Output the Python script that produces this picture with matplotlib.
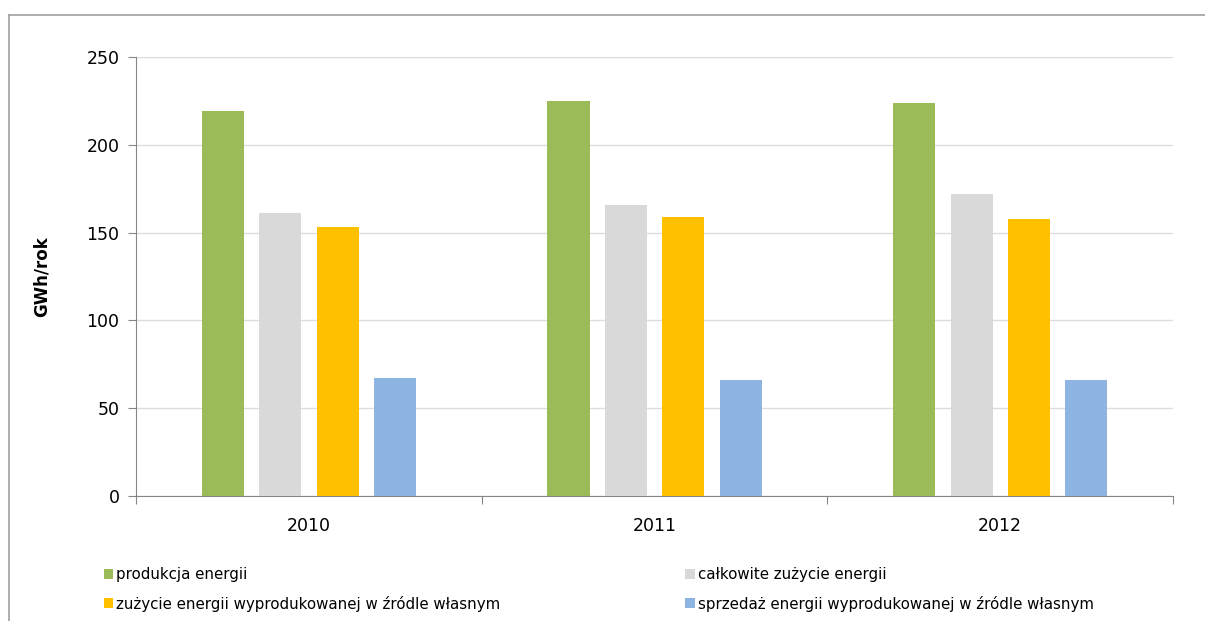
import numpy as np
import matplotlib.pyplot as plt
from matplotlib.lines import Line2D

years = ['2010', '2011', '2012']
produkcja = [219, 225, 224]
calkowite = [161, 166, 172]
zuzycie_wlasne = [153, 159, 158]
sprzedaz = [67, 66, 66]

series = [
    ('produkcja energii', produkcja, '#9BBB59'),
    ('całkowite zużycie energii', calkowite, '#D9D9D9'),
    ('zużycie energii wyprodukowanej w źródle własnym', zuzycie_wlasne, '#FFC000'),
    ('sprzedaż energii wyprodukowanej w źródle własnym', sprzedaz, '#8EB4E3'),
]

plt.rcParams['font.family'] = ['DejaVu Sans']

fig = plt.figure(figsize=(12.05, 6.21), dpi=100)
ax = fig.add_axes([0.1129, 0.2013, 0.8606, 0.7069])

x = np.arange(len(years))
width = 0.1216
step = 0.166
bars = []
for i, (name, vals, col) in enumerate(series):
    b = ax.bar(x + (i - 1.5) * step, vals, width, color=col, label=name, zorder=3)
    bars.append(b)

ax.set_xlim(-0.5, 2.5)
ax.set_ylim(0, 250)
ax.set_yticks(np.arange(0, 251, 50))
ax.grid(axis='y', color='#DCDCDC', linewidth=1, zorder=0)

# category boundaries get the ticks, year labels sit in between
ax.set_xticks([-0.5, 0.5, 1.5, 2.5])
ax.set_xticklabels([])
ax.set_xticks(x, minor=True)
ax.set_xticklabels(years, minor=True)
ax.tick_params(axis='x', which='major', length=6, color='#868686', direction='out')
ax.tick_params(axis='x', which='minor', length=0, pad=15, labelsize=12.5)
ax.tick_params(axis='y', length=6, color='#868686', labelsize=12.5, pad=6)

for s in ['top', 'right']:
    ax.spines[s].set_visible(False)
ax.spines['left'].set_color('#868686')
ax.spines['bottom'].set_color('#868686')

ax.set_ylabel('GWh/rok', fontsize=12, fontweight='bold', labelpad=26)

handles = [bars[0], bars[2], bars[1], bars[3]]
labels = [series[0][0], series[2][0], series[1][0], series[3][0]]
fig.legend(handles, labels, ncol=2, loc='upper left', bbox_to_anchor=(0.0747, 0.1086),
           frameon=False, fontsize=10.8, handlelength=0.65, handleheight=0.65,
           handletextpad=0.2, columnspacing=12.3, labelspacing=0.9)

# outer chart frame (only top and left edges are visible)
fig.add_artist(Line2D([9 / 1205, 9 / 1205], [0, 1 - 15 / 621], color='#A0A0A0', lw=1.2))
fig.add_artist(Line2D([9 / 1205, 1], [1 - 15 / 621, 1 - 15 / 621], color='#A0A0A0', lw=1.2))

fig.savefig('out.png', dpi=100)
